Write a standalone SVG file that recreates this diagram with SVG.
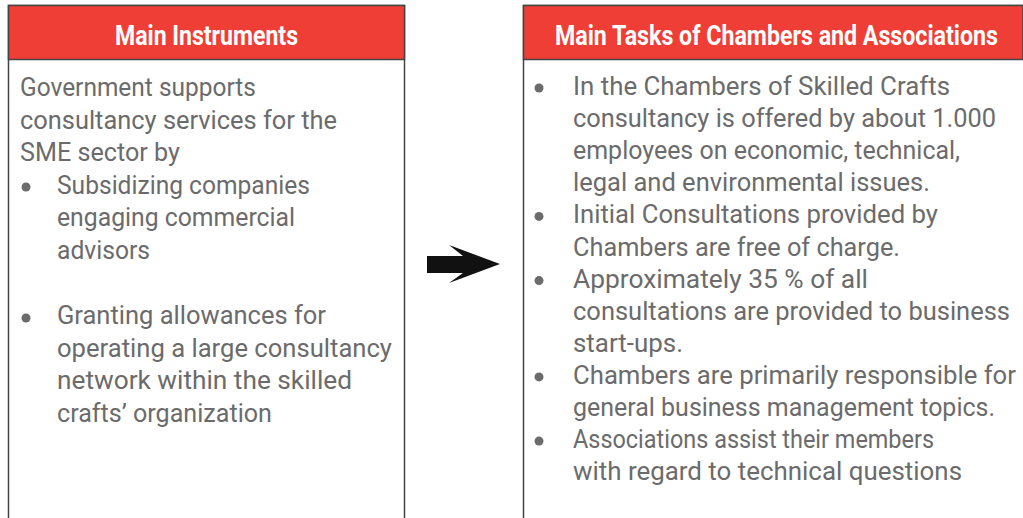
<svg xmlns="http://www.w3.org/2000/svg" width="1023" height="518" viewBox="0 0 1023 518">
<style>
.box{fill:#fff;stroke:#444;stroke-width:1.5}
.hdr{fill:#EE3E36;stroke:#444;stroke-width:1.5}
.ht{font-family:Roboto,"DejaVu Sans",sans-serif;font-weight:bold;font-size:23px;fill:#fff}
.t{font-family:Roboto,"DejaVu Sans",sans-serif;font-size:26px;fill:#6b6b6b}
.b{fill:#6b6b6b}
</style>
<rect width="1023" height="518" fill="#fff"/>
<g id="left">
<rect class="box" x="8.5" y="5.5" width="396" height="530"/>
<rect class="hdr" x="8.5" y="5.5" width="396" height="54"/>
<text class="ht" transform="translate(115,45) scale(1,1.17)" textLength="183" lengthAdjust="spacingAndGlyphs">Main Instruments</text>
<text class="t" x="20" y="96" textLength="236" lengthAdjust="spacingAndGlyphs">Government supports</text>
<text class="t" x="20" y="128.6" textLength="317" lengthAdjust="spacingAndGlyphs">consultancy services for the</text>
<text class="t" x="20" y="161.2" textLength="160" lengthAdjust="spacingAndGlyphs">SME sector by</text>
<circle class="b" cx="26" cy="187" r="4.5"/>
<text class="t" x="57" y="193.8" textLength="253" lengthAdjust="spacingAndGlyphs">Subsidizing companies</text>
<text class="t" x="57" y="226.4" textLength="238" lengthAdjust="spacingAndGlyphs">engaging commercial</text>
<text class="t" x="57" y="259" textLength="93" lengthAdjust="spacingAndGlyphs">advisors</text>
<circle class="b" cx="26" cy="318" r="4.5"/>
<text class="t" x="57" y="324.2" textLength="269" lengthAdjust="spacingAndGlyphs">Granting allowances for</text>
<text class="t" x="57" y="356.8" textLength="335" lengthAdjust="spacingAndGlyphs">operating a large consultancy</text>
<text class="t" x="57" y="389.4" textLength="295" lengthAdjust="spacingAndGlyphs">network within the skilled</text>
<text class="t" x="57" y="422" textLength="215" lengthAdjust="spacingAndGlyphs">crafts’ organization</text>
</g>
<g id="connectors">
<polygon fill="#111" points="427,256 463,256 449,245 500,264 449,283 463,273 427,273"/>
</g>
<g id="right">
<rect class="box" x="523.5" y="5.5" width="520" height="530"/>
<rect class="hdr" x="523.5" y="5.5" width="499.5" height="54"/>
<text class="ht" transform="translate(555,45) scale(1,1.17)" textLength="443" lengthAdjust="spacingAndGlyphs">Main Tasks of Chambers and Associations</text>
<circle class="b" cx="539" cy="88" r="4.5"/>
<text class="t" x="573" y="95" textLength="377" lengthAdjust="spacingAndGlyphs">In the Chambers of Skilled Crafts</text>
<text class="t" x="573" y="127.1" textLength="423" lengthAdjust="spacingAndGlyphs">consultancy is offered by about 1.000</text>
<text class="t" x="573" y="159.2" textLength="387" lengthAdjust="spacingAndGlyphs">employees on economic, technical,</text>
<text class="t" x="573" y="191.3" textLength="357" lengthAdjust="spacingAndGlyphs">legal and environmental issues.</text>
<circle class="b" cx="539" cy="216.4" r="4.5"/>
<text class="t" x="573" y="223.4" textLength="365" lengthAdjust="spacingAndGlyphs">Initial Consultations provided by</text>
<text class="t" x="573" y="255.5" textLength="327" lengthAdjust="spacingAndGlyphs">Chambers are free of charge.</text>
<circle class="b" cx="539" cy="280.6" r="4.5"/>
<text class="t" x="573" y="287.6" textLength="295" lengthAdjust="spacingAndGlyphs">Approximately 35 % of all</text>
<text class="t" x="573" y="319.7" textLength="437" lengthAdjust="spacingAndGlyphs">consultations are provided to business</text>
<text class="t" x="573" y="351.8" textLength="110" lengthAdjust="spacingAndGlyphs">start-ups.</text>
<circle class="b" cx="539" cy="376.9" r="4.5"/>
<text class="t" x="573" y="383.9" textLength="443" lengthAdjust="spacingAndGlyphs">Chambers are primarily responsible for</text>
<text class="t" x="573" y="416" textLength="422" lengthAdjust="spacingAndGlyphs">general business management topics.</text>
<circle class="b" cx="539" cy="441.1" r="4.5"/>
<text class="t" x="573" y="448.1" textLength="361" lengthAdjust="spacingAndGlyphs">Associations assist their members</text>
<text class="t" x="573" y="480.2" textLength="389" lengthAdjust="spacingAndGlyphs">with regard to technical questions</text>
</g>
</svg>
